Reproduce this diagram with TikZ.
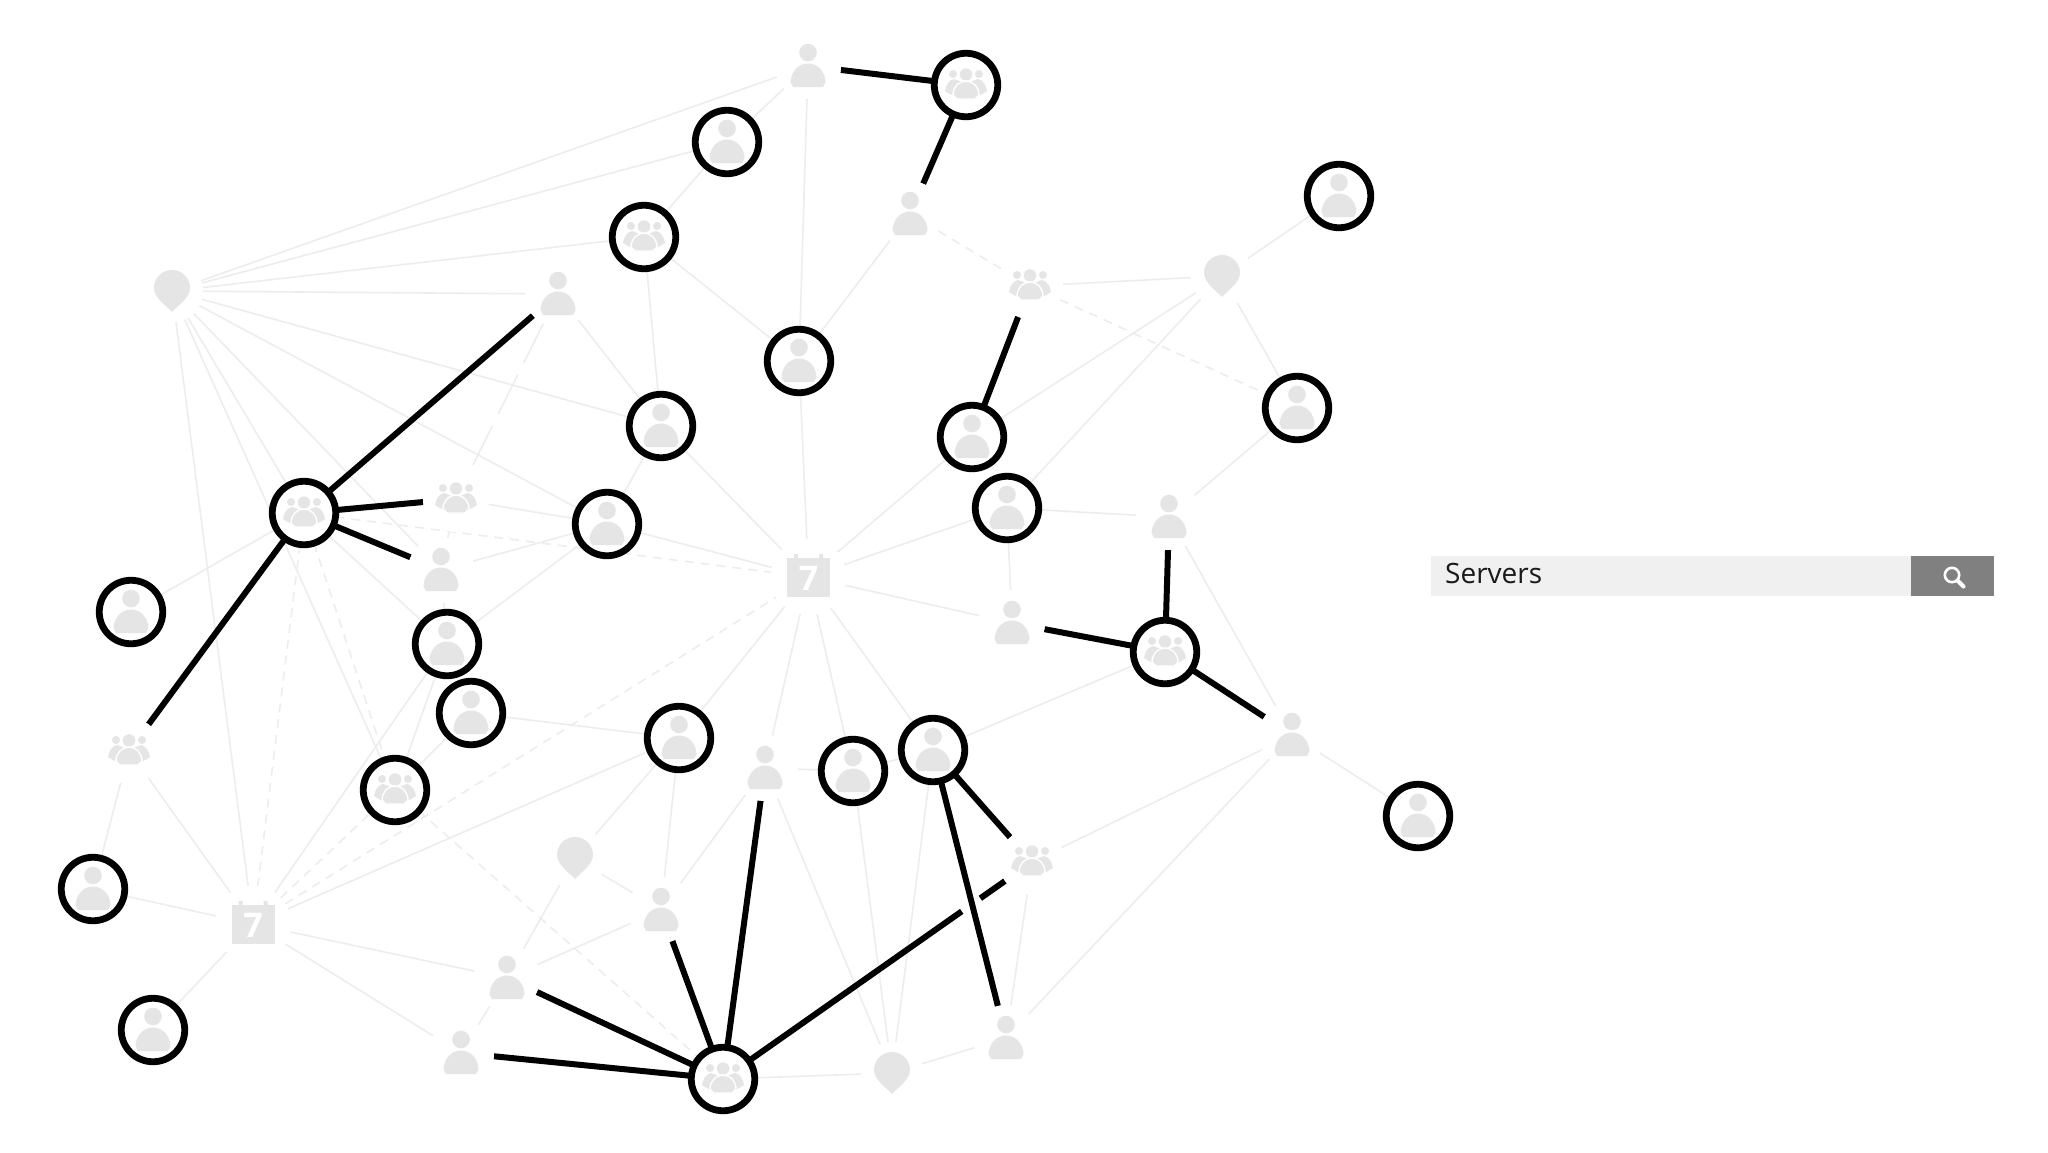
\documentclass[tikz,border=0pt]{standalone}
\usepackage{fontspec}
\setmainfont{Open Sans}
\pgfdeclarelayer{edges}
\pgfsetlayers{edges,main}
\definecolor{iconGray}{HTML}{E5E5E5}
\definecolor{edgeGray}{HTML}{EDEDED}
\definecolor{boxGray}{HTML}{F0F0F0}
\definecolor{btnGray}{HTML}{808080}
\tikzset{
  halo/.style={circle,fill=white,inner sep=0pt,outer sep=0pt,minimum size=66pt},
  pinhalo/.style={halo,minimum size=62pt},
  calhalo/.style={halo,minimum size=76pt},
  ringnode/.style={circle,draw=black,line width=6.8pt,fill=white,inner sep=0pt,outer sep=0pt,minimum size=63.5pt},
  gedge/.style={draw=edgeGray,line width=1.6pt},
  gdash/.style={gedge,dash pattern=on 9pt off 7pt},
  glong/.style={gedge,dash pattern=on 44pt off 13pt},
  bedge/.style={draw=black,line width=6pt},
  personicon/.pic={
    \fill[iconGray] (0,-13.5) circle (8.8pt);
    \fill[iconGray] (-15,21) -- (-17.5,16) .. controls (-17,6) and (-10,-2.5) .. (0,-2.5)
      .. controls (10,-2.5) and (17,6) .. (17.5,16) -- (15,21) -- cycle;
  },
  groupicon/.pic={
    \fill[iconGray] (-13,-11) circle (4pt) (13,-11) circle (4pt) (0,-10.5) circle (6.2pt);
    \fill[iconGray] (-21,6) .. controls (-20,0) and (-17,-5) .. (-12,-6) -- (-4,-3) -- (-11,11) .. controls (-15,10) and (-18,8) .. (-21,6) -- cycle;
    \fill[iconGray] (21,6) .. controls (20,0) and (17,-5) .. (12,-6) -- (4,-3) -- (11,11) .. controls (15,10) and (18,8) .. (21,6) -- cycle;
    \fill[iconGray,draw=white,line width=1.4pt] (-9,14) -- (-13,10) .. controls (-13,2) and (-7,-4) .. (0,-4)
      .. controls (7,-4) and (13,2) .. (13,10) -- (9,14) -- cycle;
  },
  pinicon/.pic={
    \fill[iconGray] (0,21) .. controls (-5,15) and (-18,7) .. (-18,-3)
      .. controls (-18,-13) and (-10,-21) .. (0,-21)
      .. controls (10,-21) and (18,-13) .. (18,-3)
      .. controls (18,7) and (5,15) .. (0,21) -- cycle;
  },
  calicon/.pic={
    \fill[iconGray] (-21.5,-19) rectangle (21.5,20);
    \fill[iconGray] (-14.5,-23) rectangle (-10.5,-18) (10.5,-23) rectangle (14.5,-18);
  }
}
\newcommand{\grayperson}[3]{\node[halo] (#1) at (#2,#3) {}; \pic at (#2,#3) {personicon};}
\newcommand{\graygroup}[3]{\node[halo] (#1) at (#2,#3) {}; \pic at (#2,#3) {groupicon};}
\newcommand{\graypin}[3]{\node[pinhalo] (#1) at (#2,#3) {}; \pic at (#2,#3) {pinicon};}
\newcommand{\graycal}[3]{\node[calhalo] (#1) at (#2,#3) {}; \pic at (#2,#3) {calicon};
  \node[text=white,font=\fontsize{34}{34}\selectfont\bfseries,inner sep=0pt] (#1num) at (#2,#3+1) {7};}
\newcommand{\ringperson}[3]{\node[ringnode] (#1) at (#2,#3) {}; \pic at (#2,#3) {personicon};}
\newcommand{\ringgroup}[3]{\node[ringnode] (#1) at (#2,#3) {}; \pic at (#2,#3) {groupicon};}
\begin{document}
\begin{tikzpicture}[x=1pt,y=-1pt]
\useasboundingbox (0,0) rectangle (2048,1152);
% plain nodes
\graypin{pA}{172}{291}
\graypin{pB}{1222}{276}
\graypin{pC}{892}{1073}
\graypin{pD}{575}{858}
\graycal{kA}{808.5}{577}
\graycal{kB}{253}{924}
\grayperson{uA}{808}{66}
\grayperson{uB}{910}{214}
\grayperson{uC}{1169}{517}
\grayperson{uD}{1012}{623}
\grayperson{uE}{1292}{735}
\grayperson{uF}{1006}{1038}
\grayperson{uG}{765}{768}
\grayperson{uH}{558}{294}
\grayperson{uI}{441}{570}
\grayperson{uJ}{661}{910}
\grayperson{uK}{507}{978}
\grayperson{uL}{461}{1053}
\graygroup{gA}{1030}{286}
\graygroup{gB}{1032}{862}
\graygroup{gC}{456}{499}
\graygroup{gD}{129}{751}
% ringed nodes
\ringgroup{rA}{644}{237}
\ringperson{rB}{661}{426}
\ringgroup{hA}{304}{513}
\ringperson{rC}{607}{524}
\ringperson{rD}{727}{142}
\ringgroup{rE}{966}{85}
\ringperson{rF}{1339}{196}
\ringperson{rG}{799}{361}
\ringperson{rH}{972}{437}
\ringperson{rI}{1297}{408}
\ringperson{rJ}{1007}{508}
\ringperson{rK}{131}{612}
\ringperson{rL}{447}{644}
\ringperson{rM}{471}{713}
\ringgroup{rN}{395}{790}
\ringperson{rO}{679}{738}
\ringperson{rP}{93}{889}
\ringperson{rQ}{153}{1030}
\ringgroup{hB}{1165}{652}
\ringperson{rR}{933}{750}
\ringperson{rS}{853}{771}
\ringperson{rT}{1418}{816}
\ringgroup{hC}{723}{1079}
% search box
\node[fill=boxGray,minimum width=480pt,minimum height=40pt,inner sep=0pt,outer sep=0pt,anchor=north west] (searchbox) at (1431,556) {};
\node[fill=btnGray,minimum width=83pt,minimum height=40pt,inner sep=0pt,outer sep=0pt,anchor=north west] (searchbtn) at (1911,556) {};
\node[anchor=base west,inner sep=0pt,font=\fontsize{28}{28}\selectfont,text=black!90] (searchtext) at (1445,583) {Servers};
\coordinate (lensA) at (1957.5,580.5);
\coordinate (lensB) at (1963.5,586.5);
\draw[white,line width=2.6pt] (1952,575) circle (7.2pt);
\draw[white,line width=4pt,line cap=round] (lensA) -- (lensB);
% connectors
\begin{pgfonlayer}{edges}
\fill[white] (0,0) rectangle (2048,1152);
\foreach \a/\b in {pA/uA,pA/rD,pA/rA,pA/uH,pA/rB,pA/rC,pA/uI,pA/rN,pA/hA,pA/kB,
  hA/rK,hA/rL,gC/rC,uI/rC,rC/rL,rC/rB,uH/rB,rA/rB,rA/rD,rD/uA,rA/rG,rB/kA,rC/kA,
  uA/rG,rG/kA,uB/rG,gA/pB,pB/rF,pB/rI,pB/rH,pB/rJ,rI/uC,rJ/uC,rH/kA,rJ/kA,rJ/uD,kA/uD,
  uC/uE,hB/rR,kA/rO,kA/uG,kA/rS,kA/rR,kB/rO,kB/rL,rN/rL,rN/rM,rL/uI,rM/rO,
  gD/rP,gD/kB,rP/kB,rQ/kB,kB/uK,kB/uL,uK/uL,uK/pD,uK/uJ,pD/uJ,pD/rO,uJ/rO,uJ/uG,
  uG/rS,rS/rR,uG/pC,rS/pC,rR/pC,gB/uF,gB/uE,uE/uF,uE/rT,uF/pC,hC/pC,gC/uI}
  {\draw[gedge] (\a) -- (\b);}
\foreach \a/\b in {hA/kA,hA/rN,hA/kB,kB/rN,kB/kA,rN/hC,uB/gA,gA/rI}
  {\draw[gdash] (\a) -- (\b);}
\draw[glong] (uH) -- (gC);
\foreach \a/\b in {rE/uA,rE/uB,rH/gA,hA/uH,hA/gC,hA/uI,hA/gD,hB/uC,hB/uD,hB/uE,
  rR/gB,hC/uJ,hC/uK,hC/uL,hC/uG,hC/gB}
  {\draw[bedge] (\a) -- (\b);}
\coordinate (gapA) at (962,911.5);
\coordinate (gapB) at (980.5,898.7);
\draw[white,line width=8pt] (gapA) -- (gapB);
\draw[bedge] (rR) -- (uF);
\end{pgfonlayer}
\end{tikzpicture}
\end{document}
